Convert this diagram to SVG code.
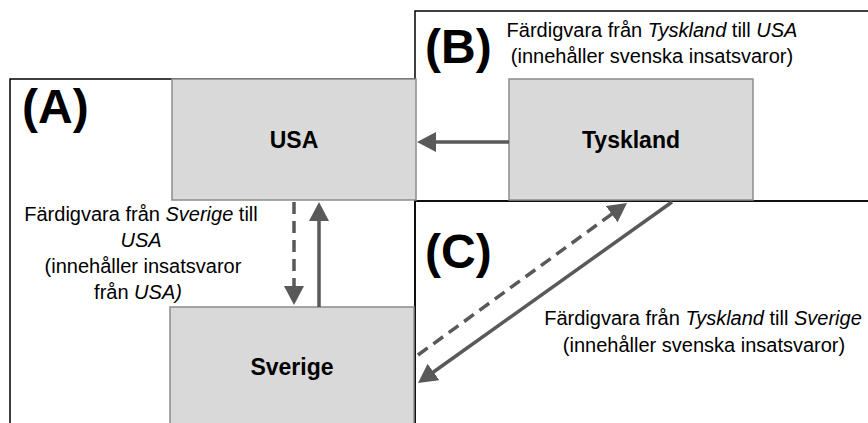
<svg xmlns="http://www.w3.org/2000/svg" width="868" height="423" viewBox="0 0 868 423">
<style>
.frame{fill:none;stroke:#000;stroke-width:1.5}
.box{fill:#d9d9d9;stroke:#8c8c8c;stroke-width:1.5}
.big{font-family:"Liberation Sans",Arial,sans-serif;font-weight:bold;font-size:48px;fill:#000}
.name{font-family:"Liberation Sans",Arial,sans-serif;font-weight:bold;font-size:23px;fill:#000;text-anchor:middle}
.lbl{font-family:"Liberation Sans",Arial,sans-serif;font-size:20px;fill:#000;text-anchor:middle}
.it{font-style:italic}
.arr{stroke:#595959;stroke-width:3.5;fill:none}
.dash{stroke-dasharray:12 7}
</style>
<defs>
<marker id="ah" markerUnits="userSpaceOnUse" viewBox="0 0 19 20" refX="3" refY="10" markerWidth="19" markerHeight="20" orient="auto">
<path d="M0,0 L19,10 L0,20 z" fill="#595959"/>
</marker>
</defs>
<g id="frames">
<rect class="frame" x="10" y="79" width="405" height="360"/>
<rect class="frame" x="415" y="11" width="470" height="190"/>
<rect class="frame" x="415" y="201" width="470" height="240"/>
</g>
<g id="panel-labels">
<text class="big" x="22" y="123">(A)</text>
<text class="big" x="425" y="63">(B)</text>
<text class="big" x="425" y="268">(C)</text>
</g>
<g id="usa">
<rect class="box" x="172" y="79" width="244" height="121"/>
<text class="name" x="294" y="148">USA</text>
</g>
<g id="tyskland">
<rect class="box" x="509" y="79" width="244" height="121"/>
<text class="name" x="631" y="148">Tyskland</text>
</g>
<g id="sverige">
<rect class="box" x="170" y="307" width="244" height="130"/>
<text class="name" x="292" y="375">Sverige</text>
</g>
<g id="connectors">
<line class="arr" x1="509" y1="142" x2="433" y2="142" marker-end="url(#ah)"/>
<line class="arr dash" x1="294" y1="202" x2="294" y2="289" marker-end="url(#ah)"/>
<line class="arr" x1="319" y1="307" x2="319" y2="218" marker-end="url(#ah)"/>
<line class="arr" x1="672" y1="202" x2="431" y2="373.7" marker-end="url(#ah)"/>
<line class="arr dash" x1="418" y1="355" x2="614.1" y2="212.4" marker-end="url(#ah)"/>
</g>
<g id="labels">
<text class="lbl" x="141" y="221">Färdigvara från <tspan class="it">Sverige</tspan> till</text>
<text class="lbl it" x="141" y="247">USA</text>
<text class="lbl" x="143" y="273">(innehåller insatsvaror</text>
<text class="lbl" x="138" y="299">från <tspan class="it">USA)</tspan></text>
<text class="lbl" x="652" y="37">Färdigvara från <tspan class="it">Tyskland</tspan> till <tspan class="it">USA</tspan></text>
<text class="lbl" x="652" y="63">(innehåller svenska insatsvaror)</text>
<text class="lbl" x="703" y="325">Färdigvara från <tspan class="it">Tyskland</tspan> till <tspan class="it">Sverige</tspan></text>
<text class="lbl" x="704" y="352">(innehåller svenska insatsvaror)</text>
</g>
</svg>
